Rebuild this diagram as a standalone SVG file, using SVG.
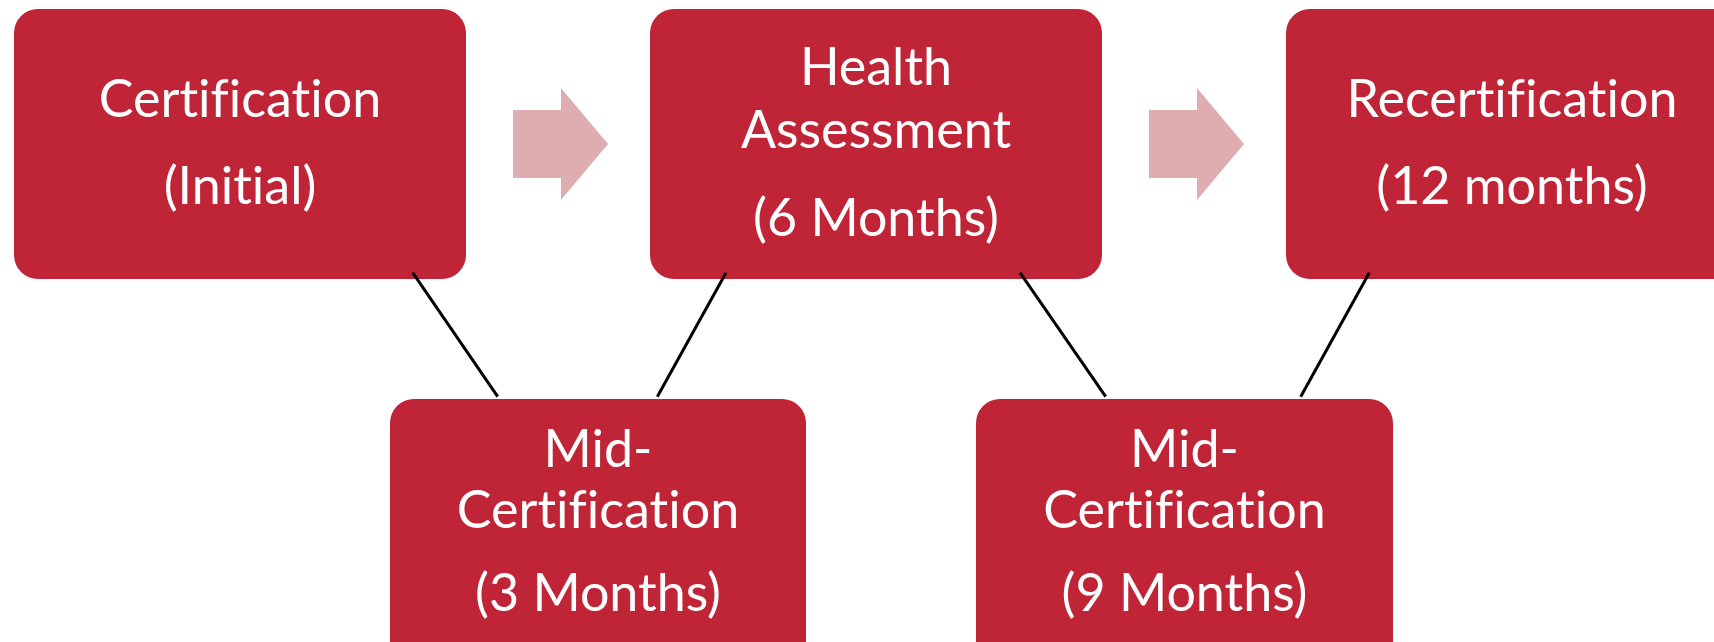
<svg xmlns="http://www.w3.org/2000/svg" width="1714" height="642" viewBox="0 0 1714 642">
<style>
.box{fill:#C02537}
.arrow{fill:#DEADAF}
.lbl{font-family:Lato,"Source Sans Pro","Liberation Sans",sans-serif;font-size:52px;fill:#FFFFFF;text-anchor:middle;font-variant-ligatures:none;font-feature-settings:"liga" 0,"clig" 0}
.conn line{stroke:#000000;stroke-width:3}
</style>
<rect width="1714" height="642" fill="#FFFFFF"/>
<g id="arrows">
<polygon class="arrow" points="513,110 561,110 561,88 608,144 561,200 561,178 513,178"/>
<polygon class="arrow" points="1149,110 1197,110 1197,88 1244,144 1197,200 1197,178 1149,178"/>
</g>
<g id="node-certification">
<rect class="box" x="14" y="9" width="452" height="270" rx="24"/>
<text class="lbl" x="240" y="117">Certification</text>
<text class="lbl" x="240" y="204">(Initial)</text>
</g>
<g id="node-health">
<rect class="box" x="650" y="9" width="452" height="270" rx="24"/>
<text class="lbl" x="876" y="85">Health</text>
<text class="lbl" x="876" y="148">Assessment</text>
<text class="lbl" x="876" y="236">(6 Months)</text>
</g>
<g id="node-recert">
<rect class="box" x="1286" y="9" width="452" height="270" rx="24"/>
<text class="lbl" x="1512" y="117">Recertification</text>
<text class="lbl" x="1512" y="204">(12 months)</text>
</g>
<g id="node-mid3">
<rect class="box" x="390" y="399" width="416" height="270" rx="24"/>
<text class="lbl" x="598" y="467">Mid-</text>
<text class="lbl" x="598" y="528">Certification</text>
<text class="lbl" x="598" y="611">(3 Months)</text>
</g>
<g id="node-mid9">
<rect class="box" x="976" y="399" width="417" height="270" rx="24"/>
<text class="lbl" x="1184.5" y="467">Mid-</text>
<text class="lbl" x="1184.5" y="528">Certification</text>
<text class="lbl" x="1184.5" y="611">(9 Months)</text>
</g>
<g id="connectors" class="conn">
<line x1="412.7" y1="272.7" x2="497.7" y2="396.7"/>
<line x1="726" y1="272.7" x2="657.3" y2="396.7"/>
<line x1="1020" y1="272.7" x2="1105.7" y2="396.7"/>
<line x1="1369.3" y1="272.7" x2="1300.7" y2="396.7"/>
</g>
</svg>
